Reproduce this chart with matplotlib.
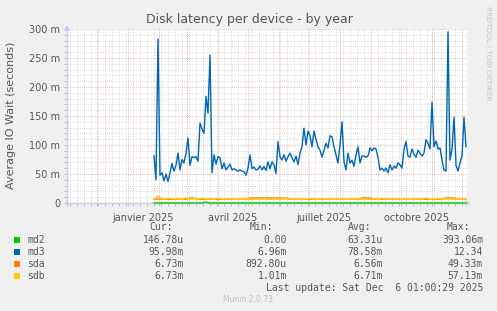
import matplotlib
matplotlib.use("Agg")
import matplotlib.pyplot as plt
import matplotlib.dates as mdates
from matplotlib.patches import Rectangle
import pandas as pd

# md3 average IO wait (ms), one reading every 2 days from 2025-01-27
md3 = [81, 40, 283, 48, 52, 38, 50, 37, 52, 68, 55, 65, 86, 57, 75, 69, 86, 112,
       65, 80, 78, 80, 72, 138, 128, 120, 184, 155, 255, 52, 83, 67, 80, 78, 59,
       69, 57, 62, 67, 57, 59, 57, 55, 57, 55, 54, 48, 60, 83, 59, 62, 57, 58,
       64, 57, 63, 56, 71, 59, 71, 66, 51, 106, 80, 74, 83, 72, 80, 86, 78, 71,
       81, 66, 86, 97, 129, 100, 124, 116, 97, 124, 110, 97, 91, 79, 91, 103, 95,
       116, 114, 97, 83, 69, 100, 140, 71, 57, 86, 69, 74, 63, 83, 97, 69, 81,
       81, 79, 81, 95, 90, 95, 93, 79, 57, 60, 55, 60, 52, 66, 57, 64, 60, 69,
       66, 60, 93, 106, 81, 79, 93, 84, 79, 91, 86, 81, 86, 109, 103, 93, 174,
       97, 107, 93, 95, 74, 57, 55, 295, 74, 93, 148, 65, 55, 69, 81, 148, 97]

# sda / sdb / md2 (ms), one reading every 4 days from 2025-01-27
sdb = [6.5, 12.0, 7.0, 6.8, 8.0, 6.7, 6.9, 6.6, 8.2, 6.8, 7.5, 6.6, 8.0, 6.7,
       6.9, 6.5, 7.8, 6.6, 6.8, 7.0, 6.6, 6.7, 6.5, 6.8, 6.6, 6.7, 6.9, 6.6,
       6.7, 6.5, 6.8, 6.6, 6.7, 7.6, 6.6, 6.8, 6.7, 6.5, 6.6, 7.5, 6.7, 6.6,
       6.8, 6.7, 6.6, 6.5, 6.7, 6.8, 6.6, 6.7, 6.6, 6.8, 6.7, 6.6, 6.5, 6.7,
       6.6, 7.2, 6.7, 6.6, 6.8, 6.7, 6.6, 6.7, 6.5, 6.6, 6.8, 6.7, 7.8, 6.6,
       6.7, 7.5, 6.8, 6.7, 7.0, 6.6, 6.7, 6.6, 6.7]
sda = [6.3, 7.0, 6.4, 6.3, 6.5, 6.3, 6.4, 6.3, 6.5, 8.6, 8.5, 6.3, 6.4, 6.3,
       6.4, 6.3, 6.3, 6.4, 6.3, 6.4, 6.3, 6.3, 6.4, 6.3, 8.6, 8.7, 8.5, 8.6,
       8.8, 8.5, 8.6, 8.7, 8.5, 8.6, 6.4, 6.3, 6.3, 6.4, 6.3, 6.3, 6.4, 6.3,
       6.3, 6.4, 6.3, 6.3, 6.4, 6.3, 6.3, 6.4, 6.3, 6.3, 8.6, 8.7, 8.6, 6.3,
       6.4, 6.3, 6.3, 6.4, 6.3, 6.3, 6.4, 6.3, 6.3, 6.4, 6.3, 6.3, 6.4, 6.3,
       6.3, 6.4, 6.3, 8.7, 8.8, 8.6, 6.4, 6.3, 6.4]
md2 = [0.1, 0.1, 0.1, 0.1, 0.1, 0.1, 0.1, 0.1, 0.1, 0.1, 0.1, 0.1, 0.1, 1.8,
       0.1, 0.1, 0.1, 0.1, 0.1, 0.1, 0.1, 0.1, 0.1, 0.1, 0.1, 0.1, 0.1, 0.1,
       0.1, 0.1, 0.1, 0.1, 0.1, 0.1, 0.1, 0.1, 0.1, 0.1, 0.1, 0.1, 0.1, 0.1,
       0.1, 0.1, 0.1, 0.1, 0.1, 0.1, 0.1, 0.1, 0.1, 0.1, 0.1, 0.1, 0.1, 0.1,
       0.1, 0.1, 0.1, 0.1, 0.1, 0.1, 0.1, 0.1, 0.1, 0.1, 0.1, 0.1, 0.1, 0.1,
       0.1, 0.1, 0.1, 0.1, 0.1, 0.1, 0.1, 0.1, 0.1]

names = ["md2", "md3", "sda", "sdb"]
colors = ["#00CC00", "#0066B3", "#FF8000", "#FFCC00"]
cur = ["146.78u", "95.98m", "6.73m", "6.73m"]
mins = ["0.00", "6.96m", "892.80u", "1.01m"]
avgs = ["63.31u", "78.58m", "6.56m", "6.71m"]
maxs = ["393.06m", "12.34", "49.33m", "57.13m"]

month_labels = ["janvier 2025", "avril 2025", "juillet 2025", "octobre 2025"]
label_dates = ["2025-01-16", "2025-04-16", "2025-07-16", "2025-10-16"]
yticks = [0, 50, 100, 150, 200, 250, 300]

t2 = pd.date_range("2025-01-27", periods=len(md3), freq="2D")
t4 = pd.date_range("2025-01-27", periods=len(sdb), freq="4D")

W, H = 497, 311
fig = plt.figure(figsize=(W / 100, H / 100), dpi=100, facecolor="#F0F0F0")
ax = fig.add_axes([67 / W, 1 - 203 / H, 400 / W, 174 / H])
ax.set_facecolor("white")

# Series
ax.plot(t4, md2, color=colors[0], lw=1.0, zorder=5, clip_on=False)
ax.plot(t2, md3, color=colors[1], lw=1.0, zorder=5)
ax.plot(t4, sda, color=colors[2], lw=1.0, zorder=5)
ax.plot(t4, sdb, color=colors[3], lw=1.0, zorder=5)

# Axes limits and grid
ax.set_xlim(pd.Timestamp("2024-11-01"), pd.Timestamp("2025-12-06"))
ax.set_ylim(0, 300)
ax.xaxis.set_major_locator(mdates.MonthLocator())
ax.xaxis.set_minor_locator(mdates.WeekdayLocator(byweekday=mdates.MO))
ax.xaxis.set_major_formatter(plt.NullFormatter())
ax.set_yticks(yticks)
ax.set_yticks(range(0, 301, 10), minor=True)
ax.set_yticklabels(["0"] + [f"{v} m" for v in yticks[1:]])

ax.grid(which="minor", color="#D2D2D2", lw=0.6, ls=(0, (1, 1.5)), zorder=1)
ax.grid(which="major", color="#E8A0A0", lw=0.6, ls=(0, (1, 1.5)), zorder=2)

ax.tick_params(axis="both", which="both", length=2, color="#B0B0B0", width=0.6)
ax.tick_params(axis="y", labelsize=7, labelcolor="#555555", pad=3)
for side in ["top", "right"]:
    ax.spines[side].set_visible(False)
for side in ["left", "bottom"]:
    ax.spines[side].set_color("#C8C8F0")
    ax.spines[side].set_linewidth(1.0)

# Axis arrows
ax.annotate("", xy=(0, 1.04), xytext=(0, 0.98), xycoords="axes fraction",
            arrowprops=dict(arrowstyle="-|>", color="#C8C8F0", lw=1.0,
                            mutation_scale=7))
ax.annotate("", xy=(1.017, 0), xytext=(0.99, 0), xycoords="axes fraction",
            arrowprops=dict(arrowstyle="-|>", color="#C8C8F0", lw=1.0,
                            mutation_scale=7))

for lab, d in zip(month_labels, label_dates):
    ax.text(pd.Timestamp(d), -0.055, lab, transform=ax.get_xaxis_transform(),
            ha="center", va="top", fontsize=7, color="#555555")

# Titles
fig.text(249 / W, 1 - 19 / H, "Disk latency per device - by year",
         ha="center", va="center", fontsize=9, color="#555555")
fig.text(11 / W, 1 - 115 / H, "Average IO Wait (seconds)", rotation=90,
         ha="center", va="center", fontsize=8, color="#555555")
fig.text(488 / W, 1 - 53 / H, "RRDTOOL / TOBI OETIKER", rotation=270,
         ha="center", va="center", fontsize=5.3, color="#C4C4C4")

# Legend block
mono = dict(family="DejaVu Sans Mono", fontsize=7, color="#555555")
hdr_y = 1 - 227 / H
for txt, xc in zip(["Cur:", "Min:", "Avg:", "Max:"], [161, 261, 360, 458]):
    fig.text(xc / W, hdr_y, txt, ha="center", va="center", **mono)
row_y = [240, 252, 264, 276]
for i, name in enumerate(names):
    y = 1 - row_y[i] / H
    fig.patches.append(Rectangle((14 / W, y - 3 / H), 6 / W, 6 / H,
                                 transform=fig.transFigure,
                                 facecolor=colors[i], edgecolor="none"))
    fig.text(27 / W, y, name, ha="left", va="center", **mono)
    fig.text(184 / W, y, cur[i], ha="right", va="center", **mono)
    fig.text(287 / W, y, mins[i], ha="right", va="center", **mono)
    fig.text(383 / W, y, avgs[i], ha="right", va="center", **mono)
    fig.text(483 / W, y, maxs[i], ha="right", va="center", **mono)
fig.text(483 / W, 1 - 288 / H, "Last update: Sat Dec  6 01:00:29 2025",
         ha="right", va="center", **mono)
fig.text(248 / W, 1 - 300 / H, "Munin 2.0.73", ha="center", va="center",
         fontsize=5.5, color="#C0C0C0")

fig.savefig("out.png", dpi=100, facecolor=fig.get_facecolor())
